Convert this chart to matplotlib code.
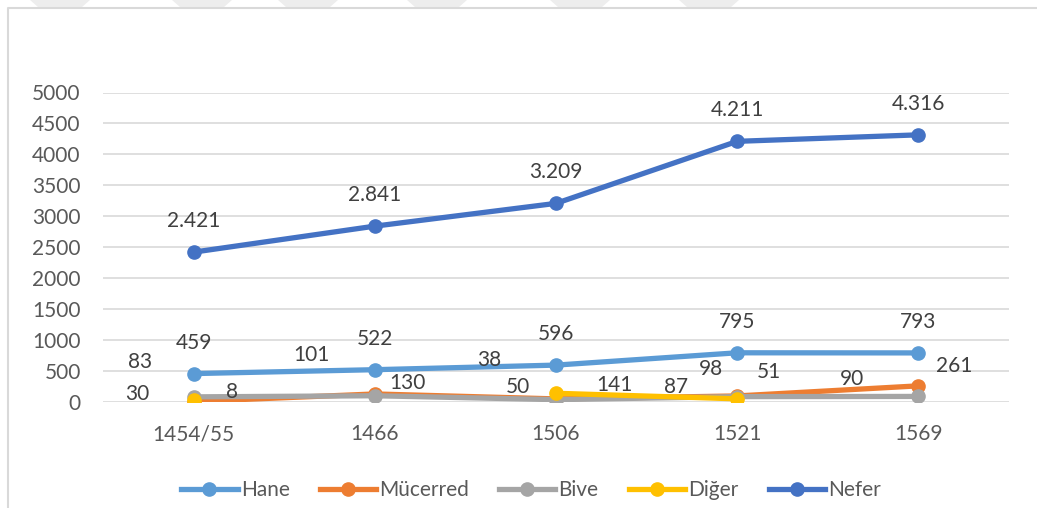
import numpy as np
import matplotlib.pyplot as plt
from matplotlib.patches import Polygon
from matplotlib.lines import Line2D

plt.rcParams['font.family'] = ['Lato', 'DejaVu Sans']

# data
years = ['1454/55', '1466', '1506', '1521', '1569']
hane = [459, 522, 596, 795, 793]
mucerred = [8, 130, 50, 98, 261]
bive = [83, 101, 38, 87, 90]
diger = [30, np.nan, 141, 51, np.nan]
nefer = [2421, 2841, 3209, 4211, 4316]

names = ['Hane', 'Mücerred', 'Bive', 'Diğer', 'Nefer']
colors = ['#5B9BD5', '#ED7D31', '#A5A5A5', '#FFC000', '#4472C4']

# label offsets in pixels (dx, dy) for each point
offs = {
    'Hane': [(0, 31)] * 5,
    'Mücerred': [(38, 10), (33, 11), (-38, 12), (-26, 27), (36, 20)],
    'Bive': [(-54, 35), (-63, 41), (-67, 40), (-61, 10), (-66, 17)],
    'Diğer': [(-56, 6), None, (58, 8), (32, 27), None],
    'Nefer': [(0, 31)] * 5,
}

W, H = 1037, 508
fig = plt.figure(figsize=(W / 100, H / 100), dpi=100)
ax = fig.add_axes([103 / W, 1 - 402 / H, 906 / W, 309.5 / H])

x = np.arange(len(years))
series = [hane, mucerred, bive, diger, nefer]
for nm, vals, c in zip(names, series, colors):
    ax.plot(x, vals, color=c, lw=3.8, marker='o', ms=9.5, label=nm,
            solid_capstyle='round', zorder=3)

for nm, vals in zip(names, series):
    for i, v in enumerate(vals):
        o = offs[nm][i]
        if o is None or np.isnan(v):
            continue
        if nm == 'Nefer':
            txt = f"{int(v):,}".replace(",", ".")
        else:
            txt = str(int(v))
        ax.annotate(txt, (i, v), xytext=o, textcoords='offset pixels',
                    ha='center', va='center', fontsize=15, color='#404040',
                    zorder=5)

ax.set_xlim(-0.5, 4.5)
ax.set_ylim(0, 5000)
ax.set_yticks(np.arange(0, 5001, 500))
ax.set_xticks(x)
ax.set_xticklabels(years)
ax.grid(axis='y', color='#D9D9D9', lw=1.2)
ax.set_axisbelow(True)
for s in ax.spines.values():
    s.set_visible(False)
ax.tick_params(axis='both', length=0, labelsize=15, colors='#595959')
ax.tick_params(axis='y', pad=16)
ax.tick_params(axis='x', pad=16)

handles = [Line2D([], [], color=c, lw=3.8, marker='o', ms=9.5) for c in colors]
fig.legend(handles, names, loc='center', bbox_to_anchor=(531 / W, 1 - 490 / H),
           ncol=5, frameon=False, fontsize=15, handlelength=2.7,
           handletextpad=0.15, columnspacing=1.45, labelcolor='#595959')

# chart border (left and top) and watermark stripes
fig.add_artist(Line2D([8 / W, 8 / W, 1], [0, 1 - 8 / H, 1 - 8 / H],
                      transform=fig.transFigure, color='#D9D9D9', lw=1.5))
for x0 in [30, 172, 278, 407, 550, 679]:
    pts = [(x0, 0), (x0 + 60, 0), (x0 + 52, 7), (x0 + 8, 7)]
    fig.add_artist(Polygon([(px / W, 1 - py / H) for px, py in pts],
                           closed=True, transform=fig.transFigure,
                           facecolor='#EDEDED', edgecolor='none'))

fig.savefig('out.png', dpi=100)
